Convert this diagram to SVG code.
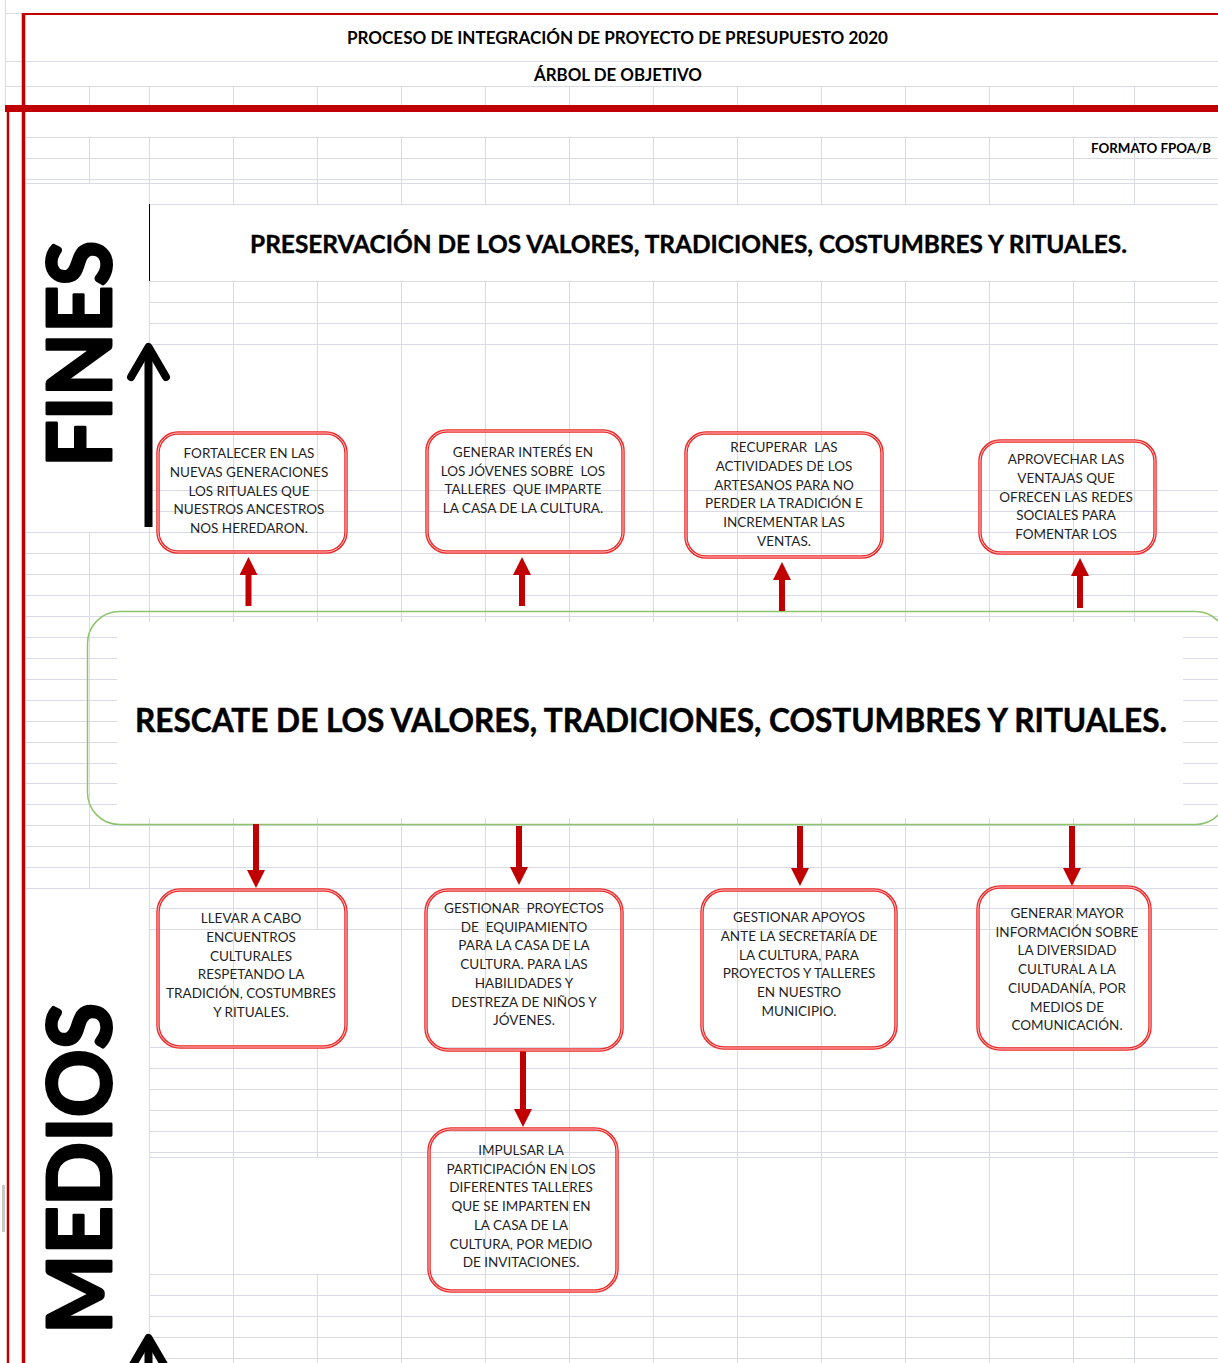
<svg xmlns="http://www.w3.org/2000/svg" width="1218" height="1363" viewBox="0 0 1218 1363">
<style>
.g{stroke:#d8dbe5;stroke-width:1;fill:none}
.box{fill:none;stroke:#ec2a2a;stroke-width:3.5}
.boxin{fill:none;stroke:#ffc4c4;stroke-width:1}
.bt{font-family:Lato,'Open Sans','Liberation Sans',sans-serif;font-size:13.5px;fill:#1f1f1f;text-anchor:middle}
.hd{font-family:Lato,'Open Sans','Liberation Sans',sans-serif;font-weight:bold;fill:#000;text-anchor:middle}
.big{stroke:#000;stroke-width:3;stroke-linejoin:round}
.arr{stroke:#c00000;stroke-width:6;fill:none;marker-end:url(#rh)}
.blk{stroke:#000;stroke-width:8;fill:none;stroke-linejoin:round}
</style>
<defs>
<marker id="rh" markerUnits="userSpaceOnUse" markerWidth="18" markerHeight="18" refX="0" refY="9" orient="auto" viewBox="0 0 18 18">
<path d="M0,0 L18,9 L0,18 z" fill="#c00000"/>
</marker>
</defs>
<rect width="1218" height="1363" fill="#fff"/>
<g id="grid" class="g" shape-rendering="crispEdges">
<path d="M5.5,0 V105"/>
<path d="M89.5,86 V105 M149.5,86 V105 M233.5,86 V105 M317.5,86 V105 M401.5,86 V105 M485.5,86 V105 M569.5,86 V105 M653.5,86 V105 M737.5,86 V105 M821.5,86 V105 M905.5,86 V105 M989.5,86 V105 M1073.5,86 V105 M1134.5,86 V105"/>
<path d="M89.5,137 V183 M149.5,137 V204 M233.5,137 V204 M317.5,137 V204 M401.5,137 V204 M485.5,137 V204 M569.5,137 V204 M653.5,137 V204 M737.5,137 V204 M821.5,137 V204 M905.5,137 V204 M989.5,137 V204 M1073.5,137 V204 M1134.5,137 V204"/>
<path d="M149.5,281 V622 M233.5,281 V622 M317.5,281 V622 M401.5,281 V622 M485.5,281 V622 M569.5,281 V622 M653.5,281 V622 M737.5,281 V622 M821.5,281 V622 M905.5,281 V622 M989.5,281 V622 M1073.5,281 V622 M1134.5,281 V622"/>
<path d="M89.5,532 V888"/>
<path d="M149.5,818 V1363 M233.5,818 V1363 M317.5,818 V929 M317.5,1047 V1158 M317.5,1274 V1363 M401.5,818 V1363 M485.5,818 V1363 M569.5,818 V1363 M653.5,818 V1363 M737.5,818 V1363 M821.5,818 V1363 M905.5,818 V1363 M989.5,818 V1363 M1073.5,818 V1363 M1134.5,818 V1363"/>
<path d="M5,13.5 H22 M5,61.5 H1218 M5,86.5 H1218"/>
<path d="M25,137.5 H1218 M25,158.5 H1218 M25,179.5 H1218 M25,183.5 H1218 M149,204.5 H1218"/>
<path d="M149,281.5 H1218 M149,302.5 H1218 M149,323.5 H1218 M149,344.5 H1218 M149,490.5 H1218 M149,511.5 H1218"/>
<path d="M25,532.5 H1218 M25,553.5 H1218 M25,574.5 H1218 M25,595.5 H1218 M25,616.5 H1218"/>
<path d="M25,637.5 H117 M25,658.5 H117 M25,679.5 H117 M25,700.5 H117 M25,721.5 H117 M25,742.5 H117 M25,763.5 H117 M25,783.5 H117 M25,804.5 H117"/>
<path d="M1183,637.5 H1218 M1183,658.5 H1218 M1183,679.5 H1218 M1183,700.5 H1218 M1183,721.5 H1218 M1183,742.5 H1218 M1183,763.5 H1218 M1183,783.5 H1218 M1183,804.5 H1218"/>
<path d="M25,825.5 H1218 M25,846.5 H1218 M25,867.5 H1218 M25,888.5 H1218"/>
<path d="M149,908.5 H1218 M149,929.5 H1218 M149,1047.5 H1218 M149,1068.5 H1218 M149,1089.5 H1218 M149,1110.5 H1218 M149,1131.5 H1218 M149,1152.5 H1218 M149,1157.5 H1218"/>
<path d="M149,1274.5 H1218 M149,1295.5 H1218 M149,1316.5 H1218 M149,1337.5 H1218 M149,1358.5 H1218"/>
</g>
<g id="frame">
<rect x="2" y="1185" width="3" height="47" fill="#c8c8c8"/>
<line x1="22" y1="14" x2="1218" y2="14" stroke="#c00000" stroke-width="2"/>
<line x1="23.5" y1="13" x2="23.5" y2="1363" stroke="#c00000" stroke-width="3.5"/>
<line x1="8" y1="105" x2="8" y2="1363" stroke="#c00000" stroke-width="2.5"/>
<rect x="5" y="105" width="1213" height="7" fill="#c00000"/>
<line x1="149.5" y1="204" x2="149.5" y2="281" stroke="#000" stroke-width="1"/>
</g>
<g id="titles">
<text class="hd" x="617.5" y="44" font-size="16.5" textLength="541" lengthAdjust="spacingAndGlyphs">PROCESO DE INTEGRACIÓN DE PROYECTO DE PRESUPUESTO 2020</text>
<text class="hd" x="618" y="81" font-size="16.5" textLength="168" lengthAdjust="spacingAndGlyphs">ÁRBOL DE OBJETIVO</text>
<text class="hd" x="1151" y="153" font-size="13" textLength="120" lengthAdjust="spacingAndGlyphs">FORMATO FPOA/B</text>
</g>
<g id="fines">
<text class="hd big" transform="translate(110.5,354) rotate(-90)" x="0" y="0" font-size="88" textLength="226" lengthAdjust="spacingAndGlyphs">FINES</text>
<path class="blk" d="M148.5,527 V350"/>
<path class="blk" d="M131,377 L148.5,347 L166,377" stroke-linecap="round"/>
</g>
<g id="medios">
<text class="hd big" transform="translate(110.5,1168.5) rotate(-90)" x="0" y="0" font-size="88" textLength="331" lengthAdjust="spacingAndGlyphs">MEDIOS</text>
<path class="blk" d="M148.5,1342 V1375"/>
<path class="blk" d="M131,1368 L148.5,1338 L166,1368" stroke-linecap="round"/>
</g>
<g id="fin-principal">
<text class="hd" x="688.5" y="253" font-size="25" textLength="877" lengthAdjust="spacingAndGlyphs" stroke="#000" stroke-width="0.4">PRESERVACIÓN DE LOS VALORES, TRADICIONES, COSTUMBRES Y RITUALES.</text>
</g>
<g id="objetivo">
<rect x="117" y="622" width="1066" height="196" fill="#fff"/>
<rect x="87.5" y="611.5" width="1140" height="213" rx="32" ry="32" fill="none" stroke="#8cc46a" stroke-width="1.5"/>
<text class="hd" x="651" y="732" font-size="33" textLength="1032" lengthAdjust="spacingAndGlyphs" stroke="#000" stroke-width="0.5">RESCATE DE LOS VALORES, TRADICIONES, COSTUMBRES Y RITUALES.</text>
</g>
<g id="connectors">
<line class="arr" x1="248.5" y1="606" x2="248.5" y2="575"/>
<line class="arr" x1="522" y1="606" x2="522" y2="575"/>
<line class="arr" x1="782" y1="611" x2="782" y2="580"/>
<line class="arr" x1="1080" y1="608" x2="1080" y2="576"/>
<line class="arr" x1="256" y1="824" x2="256" y2="870"/>
<line class="arr" x1="519" y1="826" x2="519" y2="867"/>
<line class="arr" x1="800" y1="826" x2="800" y2="868"/>
<line class="arr" x1="1072" y1="826" x2="1072" y2="868"/>
<line class="arr" x1="523" y1="1051" x2="523" y2="1109"/>
</g>
<g id="fin1">
<rect class="box" x="158" y="433" width="188" height="119" rx="20"/>
<rect class="boxin" x="158" y="433" width="188" height="119" rx="20"/>
<text class="bt"><tspan x="249" y="458">FORTALECER EN LAS</tspan><tspan x="249" y="476.8">NUEVAS GENERACIONES</tspan><tspan x="249" y="495.5">LOS RITUALES QUE</tspan><tspan x="249" y="514.3">NUESTROS ANCESTROS</tspan><tspan x="249" y="533">NOS HEREDARON.</tspan></text>
</g>
<g id="fin2">
<rect class="box" x="427" y="431" width="196" height="121" rx="20"/>
<rect class="boxin" x="427" y="431" width="196" height="121" rx="20"/>
<text class="bt" xml:space="preserve"><tspan x="523" y="457">GENERAR INTERÉS EN</tspan><tspan x="523" y="475.7">LOS JÓVENES SOBRE  LOS</tspan><tspan x="523" y="494.4">TALLERES  QUE IMPARTE</tspan><tspan x="523" y="513.1">LA CASA DE LA CULTURA.</tspan></text>
</g>
<g id="fin3">
<rect class="box" x="686" y="433" width="196" height="124" rx="20"/>
<rect class="boxin" x="686" y="433" width="196" height="124" rx="20"/>
<text class="bt" xml:space="preserve"><tspan x="784" y="452">RECUPERAR  LAS</tspan><tspan x="784" y="470.8">ACTIVIDADES DE LOS</tspan><tspan x="784" y="489.6">ARTESANOS PARA NO</tspan><tspan x="784" y="508.4">PERDER LA TRADICIÓN E</tspan><tspan x="784" y="527.2">INCREMENTAR LAS</tspan><tspan x="784" y="546">VENTAS.</tspan></text>
</g>
<g id="fin4">
<rect class="box" x="980" y="441" width="175" height="112" rx="20"/>
<rect class="boxin" x="980" y="441" width="175" height="112" rx="20"/>
<text class="bt"><tspan x="1066" y="464">APROVECHAR LAS</tspan><tspan x="1066" y="482.8">VENTAJAS QUE</tspan><tspan x="1066" y="501.5">OFRECEN LAS REDES</tspan><tspan x="1066" y="520.3">SOCIALES PARA</tspan><tspan x="1066" y="539">FOMENTAR LOS</tspan></text>
</g>
<g id="medio1">
<rect class="box" x="158" y="890" width="188" height="157" rx="22"/>
<rect class="boxin" x="158" y="890" width="188" height="157" rx="22"/>
<text class="bt"><tspan x="251" y="923">LLEVAR A CABO</tspan><tspan x="251" y="941.8">ENCUENTROS</tspan><tspan x="251" y="960.6">CULTURALES</tspan><tspan x="251" y="979.4">RESPETANDO LA</tspan><tspan x="251" y="998.2">TRADICIÓN, COSTUMBRES</tspan><tspan x="251" y="1017">Y RITUALES.</tspan></text>
</g>
<g id="medio2">
<rect class="box" x="426" y="890" width="196" height="160" rx="22"/>
<rect class="boxin" x="426" y="890" width="196" height="160" rx="22"/>
<text class="bt" xml:space="preserve"><tspan x="524" y="913">GESTIONAR  PROYECTOS</tspan><tspan x="524" y="931.7">DE  EQUIPAMIENTO</tspan><tspan x="524" y="950.4">PARA LA CASA DE LA</tspan><tspan x="524" y="969.1">CULTURA. PARA LAS</tspan><tspan x="524" y="987.8">HABILIDADES Y</tspan><tspan x="524" y="1006.5">DESTREZA DE NIÑOS Y</tspan><tspan x="524" y="1025.2">JÓVENES.</tspan></text>
</g>
<g id="medio3">
<rect class="box" x="702" y="890" width="194" height="158" rx="22"/>
<rect class="boxin" x="702" y="890" width="194" height="158" rx="22"/>
<text class="bt"><tspan x="799" y="922">GESTIONAR APOYOS</tspan><tspan x="799" y="940.8">ANTE LA SECRETARÍA DE</tspan><tspan x="799" y="959.6">LA CULTURA, PARA</tspan><tspan x="799" y="978.4">PROYECTOS Y TALLERES</tspan><tspan x="799" y="997.2">EN NUESTRO</tspan><tspan x="799" y="1016">MUNICIPIO.</tspan></text>
</g>
<g id="medio4">
<rect class="box" x="978" y="887" width="172" height="162" rx="22"/>
<rect class="boxin" x="978" y="887" width="172" height="162" rx="22"/>
<text class="bt"><tspan x="1067" y="918">GENERAR MAYOR</tspan><tspan x="1067" y="936.7">INFORMACIÓN SOBRE</tspan><tspan x="1067" y="955.4">LA DIVERSIDAD</tspan><tspan x="1067" y="974.1">CULTURAL A LA</tspan><tspan x="1067" y="992.8">CIUDADANÍA, POR</tspan><tspan x="1067" y="1011.5">MEDIOS DE</tspan><tspan x="1067" y="1030.2">COMUNICACIÓN.</tspan></text>
</g>
<g id="medio5">
<rect class="box" x="429" y="1129" width="188" height="162" rx="22"/>
<rect class="boxin" x="429" y="1129" width="188" height="162" rx="22"/>
<text class="bt"><tspan x="521" y="1155">IMPULSAR LA</tspan><tspan x="521" y="1173.7">PARTICIPACIÓN EN LOS</tspan><tspan x="521" y="1192.4">DIFERENTES TALLERES</tspan><tspan x="521" y="1211.1">QUE SE IMPARTEN EN</tspan><tspan x="521" y="1229.8">LA CASA DE LA</tspan><tspan x="521" y="1248.5">CULTURA, POR MEDIO</tspan><tspan x="521" y="1267.2">DE INVITACIONES.</tspan></text>
</g>
</svg>
